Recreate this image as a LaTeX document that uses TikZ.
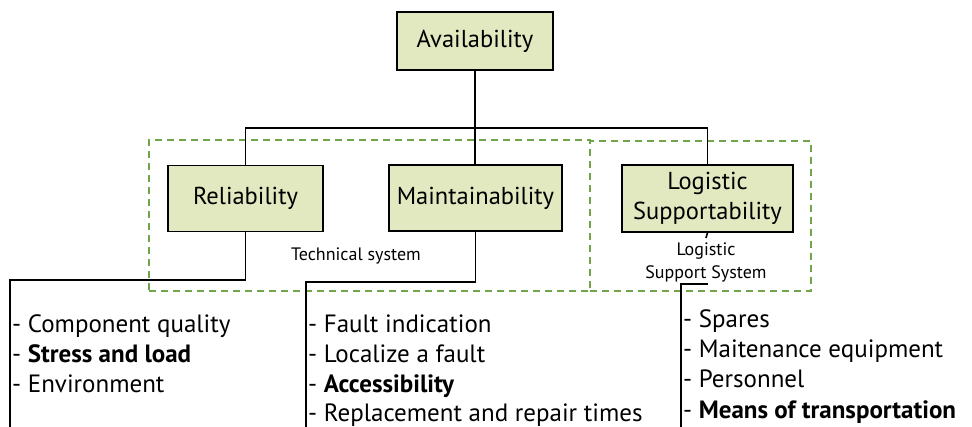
\documentclass[tikz,border=0pt]{standalone}
\usepackage{fontspec}
\setmainfont{PT Sans}
\begin{document}
\begin{tikzpicture}[x=1pt,y=-1pt,
  box/.style={draw=black,line width=1.6pt,fill=boxfill,inner sep=0pt,align=center,font=\fontsize{24.5}{30}\selectfont},
  conn/.style={draw=black,line width=1.6pt},
  grp/.style={draw=grpgreen,dashed,dash pattern=on 7pt off 5pt,line width=2pt},
  item/.style={anchor=base west,inner sep=0pt,font=\fontsize{25}{30}\selectfont},
  lbl/.style={inner sep=0pt,align=center,font=\fontsize{18}{23}\selectfont}]
\definecolor{boxfill}{RGB}{226,233,192}
\definecolor{grpgreen}{RGB}{112,165,75}
\useasboundingbox (0,0) rectangle (972,427);
% groups
\node[grp,minimum width=441pt,minimum height=151pt,inner sep=0pt] (techgrp) at (369.5,216) {};
\node[grp,minimum width=221pt,minimum height=150pt,inner sep=0pt] (loggrp) at (700.5,216) {};
% boxes
\node[box,minimum width=156pt,minimum height=58pt] (avail) at (475,41) {Availability};
\node[box,minimum width=155pt,minimum height=66pt] (rel) at (245.5,198.5) {Reliability};
\node[box,minimum width=173pt,minimum height=66pt] (main) at (475.5,198) {Maintainability};
\node[box,minimum width=171pt,minimum height=67pt] (log) at (707.5,198.5) {Logistic\\Supportability};
% labels
\node[lbl,anchor=base] (tech) at (356,261) {Technical system};
\node[lbl] (lss) at (706,262) {Logistic\\Support System};
% top connectors
\coordinate (bar) at (0,128);
\draw[conn] (avail.south) -- (avail.south |- main.north);
\draw[conn] (rel.north) -- (rel.north |- bar) -- (log.north |- bar) -- (log.north);
% lower connectors
\coordinate (ra) at (10,280);
\coordinate (rb) at (10,427);
\draw[conn] (rel.south) |- (ra) -- (rb);
\coordinate (ma) at (306,282);
\coordinate (mb) at (306,427);
\draw[conn] (main.south) |- (ma) -- (mb);
\coordinate (lt) at (706,238);
\draw[conn] (log.south) -- (lt);
\coordinate (la) at (708,284);
\coordinate (lb) at (681,284);
\coordinate (lc) at (681,427);
\draw[conn] (la) -- (lb) -- (lc);
% lists
\node[item] (r1) at (12,333) {- Component quality};
\node[item] (r2) at (12,363) {- \textbf{Stress and load}};
\node[item] (r3) at (12,393) {- Environment};
\node[item] (m1) at (308,333) {- Fault indication};
\node[item] (m2) at (308,363) {- Localize a fault};
\node[item] (m3) at (308,393) {- \textbf{Accessibility}};
\node[item] (m4) at (308,421) {- Replacement and repair times};
\node[item] (l1) at (683,328) {- Spares};
\node[item] (l2) at (683,358) {- Maitenance equipment};
\node[item] (l3) at (683,388) {- Personnel};
\node[item] (l4) at (683,418) {- \textbf{Means of transportation}};
\end{tikzpicture}
\end{document}
